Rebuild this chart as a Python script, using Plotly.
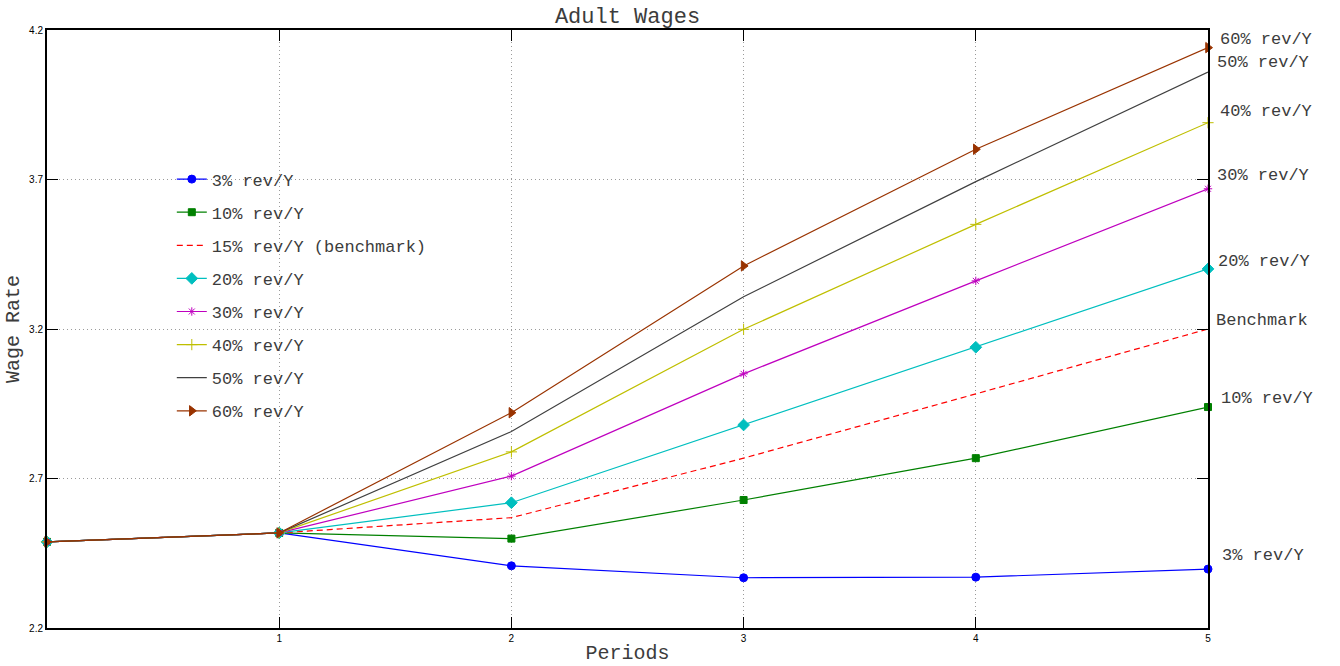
import plotly.graph_objects as go

# Periods and simulated adult wage rates for each revenue-growth scenario
periods = [0, 1, 2, 3, 4, 5]

wage_3 = [2.488, 2.518, 2.408, 2.368, 2.370, 2.397]
wage_10 = [2.488, 2.518, 2.499, 2.628, 2.768, 2.939]
wage_15 = [2.488, 2.518, 2.569, 2.768, 2.983, 3.200]
wage_20 = [2.488, 2.518, 2.619, 2.879, 3.139, 3.401]
wage_30 = [2.488, 2.518, 2.708, 3.050, 3.361, 3.669]
wage_40 = [2.488, 2.518, 2.789, 3.199, 3.550, 3.890]
wage_50 = [2.488, 2.518, 2.857, 3.308, 3.693, 4.059]
wage_60 = [2.488, 2.518, 2.920, 3.411, 3.801, 4.141]

legend_names = [
    "3% rev/Y", "10% rev/Y", "15% rev/Y (benchmark)", "20% rev/Y",
    "30% rev/Y", "40% rev/Y", "50% rev/Y", "60% rev/Y",
]

# End-of-line labels (text, y position in data units, horizontal shift in px)
end_labels = ["60% rev/Y", "50% rev/Y", "40% rev/Y", "30% rev/Y",
              "20% rev/Y", "Benchmark", "10% rev/Y", "3% rev/Y"]
end_label_y = [4.167, 4.090, 3.929, 3.712, 3.427, 3.227, 2.969, 2.444]
end_label_shift = [10, 7, 10, 7, 8, 6, 11, 12]

x_ticks = [1, 2, 3, 4, 5]
y_ticks = [2.2, 2.7, 3.2, 3.7, 4.2]

MONO = "Liberation Mono, Courier New, monospace"
TXT = "#3c3c3c"

styles = [
    dict(color="#0000ff", dash="solid", symbol="circle", size=8),
    dict(color="#008000", dash="solid", symbol="square", size=7),
    dict(color="#ff0000", dash="6px,4px", symbol=None, size=0),
    dict(color="#00bfbf", dash="solid", symbol="diamond", size=9),
    dict(color="#bf00bf", dash="solid", symbol="asterisk-open", size=7),
    dict(color="#bfbf00", dash="solid", symbol="cross-thin-open", size=8),
    dict(color="#404040", dash="solid", symbol=None, size=0),
    dict(color="#993300", dash="solid", symbol="triangle-right", size=9),
]

series = [wage_3, wage_10, wage_15, wage_20, wage_30, wage_40, wage_50, wage_60]

fig = go.Figure()
for i, (name, ys, st) in enumerate(zip(legend_names, series, styles)):
    has_marker = st["symbol"] is not None
    fig.add_trace(go.Scatter(
        x=periods, y=ys, name=name,
        mode="lines+markers" if has_marker else "lines",
        line=dict(color=st["color"], width=1.2, dash=st["dash"]),
        marker=dict(symbol=st["symbol"] or "circle", size=st["size"],
                    color=st["color"], line=dict(color=st["color"], width=1)),
        legendgroup=f"g{i}",
        cliponaxis=False,
    ))

for text, y, dx in zip(end_labels, end_label_y, end_label_shift):
    fig.add_annotation(
        xref="paper", yref="y", x=1, y=y, xanchor="left", yanchor="middle",
        xshift=dx, text=text, showarrow=False,
        font=dict(family=MONO, size=17, color=TXT),
    )

axis_common = dict(
    showline=True, linecolor="black", linewidth=2, mirror="allticks",
    ticks="inside", ticklen=11, tickwidth=1, tickcolor="black",
    showgrid=True, gridcolor="#9a9a9a", griddash="1px,3px", gridwidth=1,
    zeroline=False, automargin=False,
    tickfont=dict(family="Liberation Sans, Arial, sans-serif", size=10, color="black"),
)

fig.update_xaxes(
    range=[0, 5], tickvals=x_ticks, ticktext=[str(v) for v in x_ticks],
    title=dict(text="Periods", font=dict(family=MONO, size=20, color=TXT), standoff=2),
    **axis_common,
)
fig.update_yaxes(
    range=[2.2, 4.2], tickvals=y_ticks, ticktext=[f"{v:.1f}" for v in y_ticks],
    title=dict(text="Wage Rate", font=dict(family=MONO, size=20, color=TXT), standoff=4),
    **axis_common,
)

fig.update_layout(
    width=1340, height=666,
    margin=dict(l=47, r=132, t=30, b=38),
    paper_bgcolor="white", plot_bgcolor="white",
    title=dict(text="Adult Wages", x=0.5, xref="paper", xanchor="center",
               y=1 - 15 / 666, yanchor="middle",
               font=dict(family=MONO, size=22, color=TXT)),
    legend=dict(x=0.1075, y=0.78, xanchor="left", yanchor="top",
                bgcolor="rgba(0,0,0,0)", borderwidth=0,
                font=dict(family=MONO, size=17, color=TXT),
                tracegroupgap=8, itemwidth=30),
    showlegend=True,
)

fig.write_html("out.html")
